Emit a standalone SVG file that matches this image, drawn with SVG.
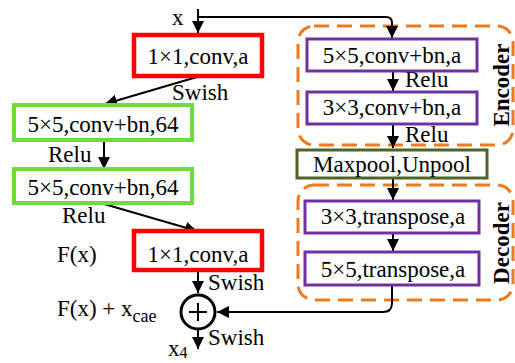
<svg xmlns="http://www.w3.org/2000/svg" width="515" height="363" viewBox="0 0 515 363">
<defs>
<marker id="ah" markerWidth="13" markerHeight="13" refX="12" refY="6.5" orient="auto" markerUnits="userSpaceOnUse">
<path d="M0,0.5 L12,6.5 L0,12.5 Z" fill="#000"/>
</marker>
<style>
text{font-family:"Liberation Serif","Times New Roman",serif;font-size:23px;fill:#000}
.c{text-anchor:middle}
.b{font-weight:bold}
.red{fill:#fff;stroke:#ff0000;stroke-width:4.5}
.grn{fill:#fff;stroke:#6cdc3c;stroke-width:4}
.pur{fill:#fff;stroke:#7030a0;stroke-width:3}
.olv{fill:#fff;stroke:#4f6228;stroke-width:3}
.grp{fill:none;stroke:#ee7a1e;stroke-width:3;stroke-dasharray:15 8}
.ar{fill:none;stroke:#000;stroke-width:2;marker-end:url(#ah)}
</style>
</defs>
<rect width="515" height="363" fill="#fff"/>

<g id="encoder-group"><rect class="grp" x="298" y="26" width="215" height="119" rx="16"/><text class="b c" transform="translate(509,85) rotate(-90)">Encoder</text></g>
<g id="decoder-group"><rect class="grp" x="298" y="185" width="215" height="115" rx="16"/><text class="b c" transform="translate(509,243) rotate(-90)">Decoder</text></g>

<g id="connectors">
<path class="ar" d="M198,9 V33"/>
<path class="ar" d="M198,17 H386 Q392,17 392,23 V38"/>
<path class="ar" d="M197,77 L105,104"/>
<path class="ar" d="M104,141 V169"/>
<path class="ar" d="M104,204 L197,231"/>
<path class="ar" d="M198,330 V349"/>
<path class="ar" d="M198,271 V293"/>
<path class="ar" d="M392,285 V303 Q392,312 383,312 H217"/>
<path class="ar" d="M393,71 V91"/>
<path class="ar" d="M393,124 V148"/>
<path class="ar" d="M393,178 V200"/>
<path class="ar" d="M393,233 V251"/>
</g>

<g id="labels">
<text x="172" y="25">x</text>
<text x="172" y="100">Swish</text>
<text x="48" y="162">Relu</text>
<text x="62" y="223">Relu</text>
<text x="57" y="262">F(x)</text>
<text x="208" y="290">Swish</text>
<text x="57" y="316">F(x) + x<tspan font-size="18" dy="6">cae</tspan></text>
<text x="208" y="345">Swish</text>
<text x="168" y="356">x<tspan font-size="16" dy="2">4</tspan></text>
<text x="405" y="87">Relu</text>
<text x="405" y="142">Relu</text>
</g>

<g id="n-conv1"><rect class="red" x="134" y="35" width="128" height="41"/><text class="c" x="198" y="64">1×1,conv,a</text></g>
<g id="n-conv5a"><rect class="grn" x="14" y="105" width="178" height="35"/><text class="c" x="103" y="132">5×5,conv+bn,64</text></g>
<g id="n-conv5b"><rect class="grn" x="14" y="169" width="178" height="34"/><text class="c" x="103" y="195">5×5,conv+bn,64</text></g>
<g id="n-conv1b"><rect class="red" x="134" y="231" width="128" height="39"/><text class="c" x="198" y="262">1×1,conv,a</text></g>
<g id="n-add"><circle cx="198" cy="312" r="17" fill="#fff" stroke="#000" stroke-width="3"/><path d="M189,312 H207 M198,303 V321" stroke="#000" stroke-width="2"/></g>

<g id="n-enc1"><rect class="pur" x="307" y="39" width="170" height="32"/><text class="c" x="392" y="63">5×5,conv+bn,a</text></g>
<g id="n-enc2"><rect class="pur" x="307" y="92" width="170" height="32"/><text class="c" x="392" y="115">3×3,conv+bn,a</text></g>
<g id="n-pool"><rect class="olv" x="297" y="150" width="190" height="28"/><text class="c" x="392" y="172">Maxpool,Unpool</text></g>
<g id="n-dec1"><rect class="pur" x="305" y="201" width="174" height="32"/><text class="c" x="393" y="224">3×3,transpose,a</text></g>
<g id="n-dec2"><rect class="pur" x="305" y="252" width="174" height="33"/><text class="c" x="393" y="277">5×5,transpose,a</text></g>
</svg>
